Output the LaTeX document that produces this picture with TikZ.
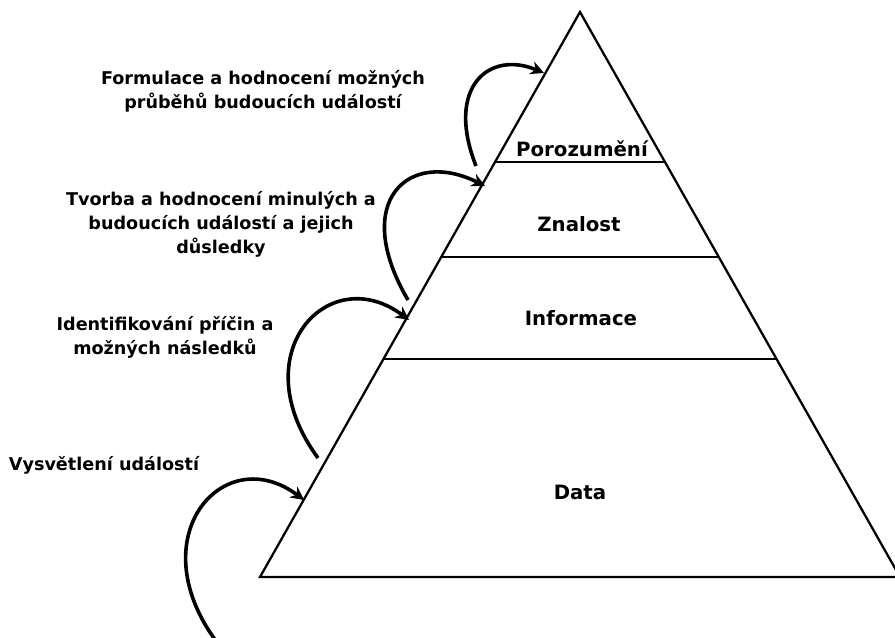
\documentclass[tikz,border=0pt]{standalone}
\usepackage{fontspec}
\setmainfont{DejaVu Sans}
\usepackage{tikz}
\usetikzlibrary{arrows.meta, calc}

\begin{document}
\begin{tikzpicture}[x=0.75pt, y=-0.75pt,
    couche/.style={font=\fontsize{14.8}{17}\selectfont\bfseries},
    legende/.style={font=\fontsize{13.2}{18}\selectfont\bfseries, align=center},
    fleche/.style={line width=2.7pt, -{Stealth[length=10pt, width=10pt]}}]
    \useasboundingbox (0,0) rectangle (895,637);
    % pyramide
    \coordinate (sommet) at (580,12);
    \coordinate (gauche) at (260,577);
    \coordinate (droite) at (900,577);
    \draw[line width=1.7pt, line join=miter] (sommet) -- (gauche) -- (droite) -- cycle;
    \draw[line width=1.5pt] ($(sommet)!0.265!(gauche)$) -- ($(sommet)!0.265!(droite)$);
    \draw[line width=1.5pt] ($(sommet)!0.434!(gauche)$) -- ($(sommet)!0.434!(droite)$);
    \draw[line width=1.5pt] ($(sommet)!0.614!(gauche)$) -- ($(sommet)!0.614!(droite)$);
    % niveaux
    \node[couche] (porozumeni) at (582,149) {Porozumění};
    \node[couche] (znalost) at (579,224) {Znalost};
    \node[couche] (informace) at (581,318) {Informace};
    \node[couche] (data) at (580,492) {Data};
    % legendes a gauche
    \node[legende] (formulace) at (263,91) {Formulace a hodnocení možných\\průběhů budoucích událostí};
    \node[legende] (tvorba) at (221,224) {Tvorba a hodnocení minulých a\\budoucích událostí a jejich\\důsledky};
    \node[legende] (identifikovani) at (165,337) {Identifikování příčin a\\možných následků};
    \node[legende] (vysvetleni) at (104,465) {Vysvětlení událostí};
    % fleches
    \coordinate (d1) at (476,166);
    \coordinate (f1) at (544,73);
    \coordinate (d2) at (408,300);
    \coordinate (f2) at (485,186);
    \coordinate (d3) at (318,458);
    \coordinate (f3) at (409,320);
    \coordinate (d4) at (216,641);
    \coordinate (f4) at (304,500);
    \draw[fleche] (d1) .. controls +(-31,-79) and +(-55,-23) .. (f1);
    \draw[fleche] (d2) .. controls +(-58,-99) and +(-76,-38) .. (f2);
    \draw[fleche] (d3) .. controls +(-77,-105) and +(-80,-60) .. (f3);
    \draw[fleche] (d4) .. controls +(-77,-105) and +(-80,-60) .. (f4);
\end{tikzpicture}
\end{document}
